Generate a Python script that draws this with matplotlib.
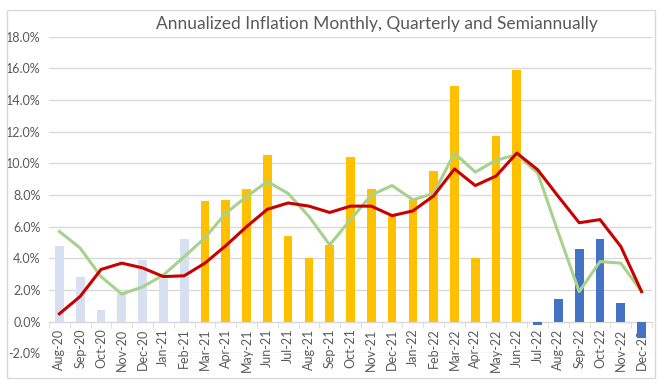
import matplotlib.pyplot as plt
import numpy as np
from matplotlib.patches import Rectangle

meses = ["Aug-20", "Sep-20", "Oct-20", "Nov-20", "Dec-20", "Jan-21", "Feb-21",
         "Mar-21", "Apr-21", "May-21", "Jun-21", "Jul-21", "Aug-21", "Sep-21",
         "Oct-21", "Nov-21", "Dec-21", "Jan-22", "Feb-22", "Mar-22", "Apr-22",
         "May-22", "Jun-22", "Jul-22", "Aug-22", "Sep-22", "Oct-22", "Nov-22", "Dec-22"]

# mensal anualizado, em tres blocos de cor
mensal_2020 = [4.8, 2.8, 0.75, 1.8, 3.9, 2.7, 5.2]
mensal_2021 = [7.65, 7.7, 8.4, 10.5, 5.4, 4.0, 4.85, 10.4, 8.4, 6.65, 7.7, 9.55,
               14.9, 4.0, 11.7, 15.9]
mensal_2022 = [-0.2, 1.45, 4.6, 5.25, 1.2, -1.0]

trimestral = [5.7, 4.65, 2.85, 1.75, 2.2, 2.95, 4.1, 5.3, 6.85, 7.9, 8.85, 8.1,
              6.65, 4.85, 6.45, 8.0, 8.6, 7.7, 8.1, 10.65, 9.45, 10.2, 10.55,
              9.4, 5.6, 1.9, 3.8, 3.7, 1.9]
semestral = [0.5, 1.6, 3.3, 3.7, 3.4, 2.85, 2.9, 3.7, 4.8, 6.0, 7.1, 7.5, 7.3,
             6.9, 7.3, 7.3, 6.7, 7.0, 7.95, 9.65, 8.6, 9.2, 10.65, 9.6, 7.9,
             6.25, 6.45, 4.75, 1.9]

cinza = "#595959"
fonte = "Lato"

fig = plt.figure(figsize=(6.64, 3.88), dpi=100)
ax = fig.add_axes([49 / 664, 1 - 353.4 / 388, (652 - 49) / 664, (353.4 - 36.7) / 388])

x = np.arange(len(meses))
n1 = len(mensal_2020)
n2 = len(mensal_2021)
larguraBarra = 0.42
ax.bar(x[:n1], mensal_2020, width=larguraBarra, color="#D6E0F0", zorder=2)
ax.bar(x[n1:n1 + n2], mensal_2021, width=larguraBarra, color="#FFC000", zorder=2)
ax.bar(x[n1 + n2:], mensal_2022, width=larguraBarra, color="#4472C4", zorder=2)

ax.plot(x, trimestral, color="#A9D18E", linewidth=2.2, zorder=3, solid_joinstyle="round")
ax.plot(x, semestral, color="#C80000", linewidth=2.2, zorder=4, solid_joinstyle="round")

ax.set_xlim(-0.5, len(meses) - 0.5)
ax.set_ylim(-2, 18)
ax.set_yticks(np.arange(-2, 19, 2))
ax.set_yticklabels([f"{v:.1f}%" for v in np.arange(-2, 19, 2)], fontsize=9,
                   color=cinza, fontname=fonte)
ax.yaxis.grid(True, color="#D9D9D9", linewidth=1.0, zorder=0)
ax.set_axisbelow(True)
ax.tick_params(axis="y", length=0, pad=6)

for lado in ["top", "right", "left"]:
    ax.spines[lado].set_visible(False)
ax.spines["bottom"].set_position(("data", 0))
ax.spines["bottom"].set_color("#D9D9D9")
ax.spines["bottom"].set_zorder(1)

ax.set_xticks(x)
ax.set_xticklabels(meses, rotation=90, fontsize=9, color=cinza, fontname=fonte)
ax.set_xticks(np.arange(-0.5, len(meses), 1), minor=True)
ax.tick_params(axis="x", which="major", length=0, pad=5)
ax.tick_params(axis="x", which="minor", length=4, color="#D9D9D9")

fig.text(377 / 664, 1 - 24 / 388, "Annualized Inflation Monthly, Quarterly and Semiannually",
         ha="center", va="center", fontsize=12.5, color=cinza, fontname=fonte)

fig.patches.append(Rectangle((7 / 664, 10 / 388), (655 - 7) / 664, (378 - 10) / 388,
                             transform=fig.transFigure, fill=False,
                             edgecolor="#D9D9D9", linewidth=1.0))

fig.savefig("out.png", dpi=100)
